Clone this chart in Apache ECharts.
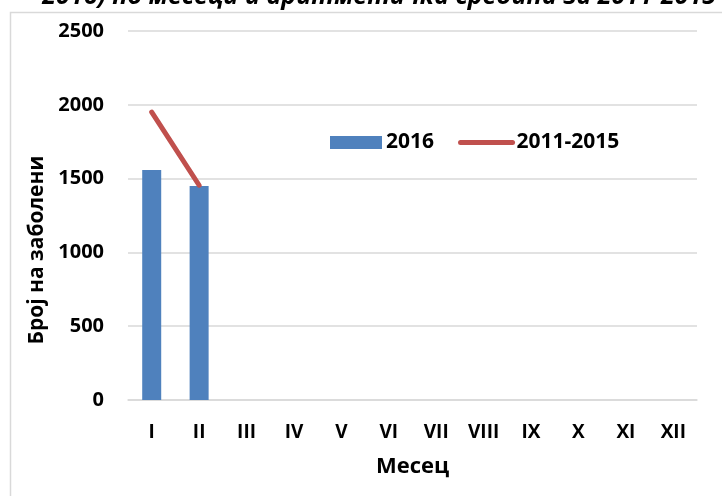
<!DOCTYPE html>
<html>
<head>
	<meta charset="UTF-8">
	<title></title>
	<script type="text/javascript" src="https://cdn.jsdelivr.net/npm/echarts@6/dist/echarts.min.js"></script>
	<style>
		html, body { margin:0; padding:0; background:#fff; }
		#chart { width:722px; height:496px; }
	</style>
</head>
<body>
<div id="chart"></div>
<script>
	// податоци
	var months = ['I','II','III','IV','V','VI','VII','VIII','IX','X','XI','XII'];
	var cases2016 = [1558, 1450];
	var avg2011_2015 = [1950, 1455];
	var yTicks = [0, 500, 1000, 1500, 2000, 2500];

	var fontName = '"Open Sans", "Noto Sans", sans-serif';
	var myChart = echarts.init(document.getElementById('chart'));
	var option = {
		animation: false,
		backgroundColor: '#fff',
		textStyle: { fontFamily: fontName },
		graphic: [
			{	// рамка
				type: 'rect', left: 8, top: 10, silent: true,
				shape: { width: 800, height: 600 },
				style: { fill: 'none', stroke: '#D9D9D9', lineWidth: 1.5 }
			},
			{	// наслов (отсечен горе)
				type: 'text', x: 716, y: 9,
				style: {
					text: '2016) по месеци и аритметичка средина за 2011-2015',
					textAlign: 'right', textVerticalAlign: 'bottom',
					font: 'italic bold 25px ' + fontName, fill: '#000'
				}
			},
			{
				type: 'text', x: 37, y: 250, rotation: Math.PI / 2,
				style: {
					text: 'Број на заболени',
					textAlign: 'center', textVerticalAlign: 'middle',
					font: 'bold 21px ' + fontName, fill: '#000'
				}
			}
		],
		legend: {
			left: 325, top: 127,
			itemWidth: 52, itemHeight: 13, itemGap: 24,
			textStyle: { fontWeight: 'bold', fontSize: 21, color: '#000', padding: [0, 0, 0, -1] },
			data: [
				{ name: '2016', icon: 'rect' },
				{ name: '2011-2015', itemStyle: { opacity: 0 }, lineStyle: { width: 5, cap: 'round', color: '#C0504D' } }
			]
		},
		grid: { left: 128, right: 25, top: 31, bottom: 96 },
		xAxis: {
			type: 'category',
			data: months,
			name: 'Месец',
			nameLocation: 'middle',
			nameGap: 56,
			nameTextStyle: { fontWeight: 'bold', fontSize: 22, color: '#000' },
			axisLine: { lineStyle: { color: '#D9D9D9', width: 1.5 } },
			axisTick: { show: false },
			axisLabel: { fontWeight: 'bold', fontSize: 19, color: '#000', margin: 23 }
		},
		yAxis: {
			type: 'value',
			min: yTicks[0], max: yTicks[yTicks.length - 1], interval: 500,
			axisLine: { show: false },
			axisTick: { show: false },
			axisLabel: {
				fontWeight: 'bold', fontSize: 20, color: '#000', margin: 24,
				formatter: function (v) { return String(v); }
			},
			splitLine: { lineStyle: { color: '#D9D9D9', width: 1.5 } }
		},
		series: [
			{
				name: '2016',
				type: 'bar',
				barWidth: 19,
				itemStyle: { color: '#4F81BD' },
				data: cases2016
			},
			{
				name: '2011-2015',
				type: 'line',
				symbol: 'none',
				lineStyle: { color: '#C0504D', width: 5, cap: 'round' },
				itemStyle: { color: '#C0504D' },
				data: avg2011_2015
			}
		]
	};
	myChart.setOption(option);
</script>
</body>
</html>
